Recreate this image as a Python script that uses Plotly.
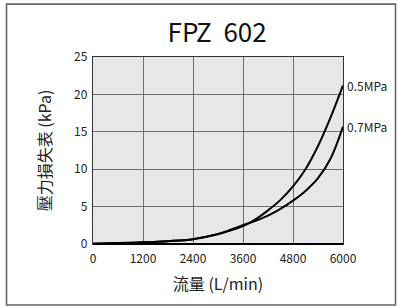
import plotly.graph_objects as go

flow = [0, 600, 1200, 1800, 2400, 3000, 3300, 3600, 3900, 4200, 4500, 4800, 5100, 5400, 5700, 6000]
p05 = [0.05, 0.12, 0.22, 0.38, 0.65, 1.3, 1.8, 2.4, 3.3, 4.5, 5.9, 7.7, 10.0, 13.1, 16.9, 21.2]
p07 = [0.05, 0.12, 0.22, 0.38, 0.65, 1.35, 1.9, 2.5, 3.1, 3.8, 4.7, 5.8, 7.1, 8.8, 11.4, 15.7]
series_names = ["0.5MPa", "0.7MPa"]
x_ticks = [0, 1200, 2400, 3600, 4800, 6000]
y_ticks = [0, 5, 10, 15, 20, 25]

FONT = "Noto Sans CJK JP"

fig = go.Figure()
for name, vals in zip(series_names, [p05, p07]):
    fig.add_trace(go.Scatter(x=flow, y=vals, mode="lines", name=name,
                             line=dict(color="black", width=2, shape="spline", smoothing=1.0),
                             showlegend=False, cliponaxis=False, hoverinfo="skip"))
    fig.add_annotation(x=flow[-1], y=vals[-1], text=name, showarrow=False,
                       xanchor="left", yanchor="middle", xshift=2,
                       font=dict(family=FONT, size=12, color="#222"))

fig.update_layout(
    width=397, height=306,
    margin=dict(l=93, r=54, t=57, b=62, autoexpand=False),
    paper_bgcolor="white", plot_bgcolor="#e6e7e8",
    title=dict(text="FPZ\u00a0\u00a0602", x=0.547, xanchor="center", y=0.892, yanchor="middle",
               font=dict(family=FONT, size=26, color="#111")),
    font=dict(family=FONT, color="#222"),
    xaxis=dict(range=[0, 6000], tickvals=x_ticks, ticktext=[str(v) for v in x_ticks],
               showgrid=True, gridcolor="#6e6e6e", gridwidth=1.3,
               showline=True, linecolor="#333", linewidth=1.3, mirror=True,
               ticks="", ticklen=0, zeroline=False, automargin=False, ticklabelstandoff=3,
               tickfont=dict(family=FONT, size=12, color="#222"),
               title=dict(text="流量 (L/min)", font=dict(family=FONT, size=16, color="#222"), standoff=14)),
    yaxis=dict(range=[0, 25], tickvals=y_ticks, ticktext=[str(v) for v in y_ticks],
               showgrid=True, gridcolor="#6e6e6e", gridwidth=1.3,
               showline=True, linecolor="#333", linewidth=1.3, mirror=True,
               ticks="", zeroline=False, automargin=False, ticklabelstandoff=2,
               tickfont=dict(family=FONT, size=12, color="#222"),
               title=dict(text="壓力損失表 (kPa)", font=dict(family=FONT, size=16, color="#222"), standoff=18)),
)
fig.add_shape(type="line", xref="paper", yref="paper", x0=0, x1=1, y0=0, y1=0,
              line=dict(color="black", width=2.2))
fig.add_shape(type="rect", xref="paper", yref="paper", x0=-0.346, x1=1.21, y0=-0.326, y1=1.283,
              line=dict(color="#666", width=1.6), layer="below")

fig.write_html("out.html", config={"displayModeBar": False},
               post_script="document.body.style.margin='0';document.body.style.overflow='hidden';")
